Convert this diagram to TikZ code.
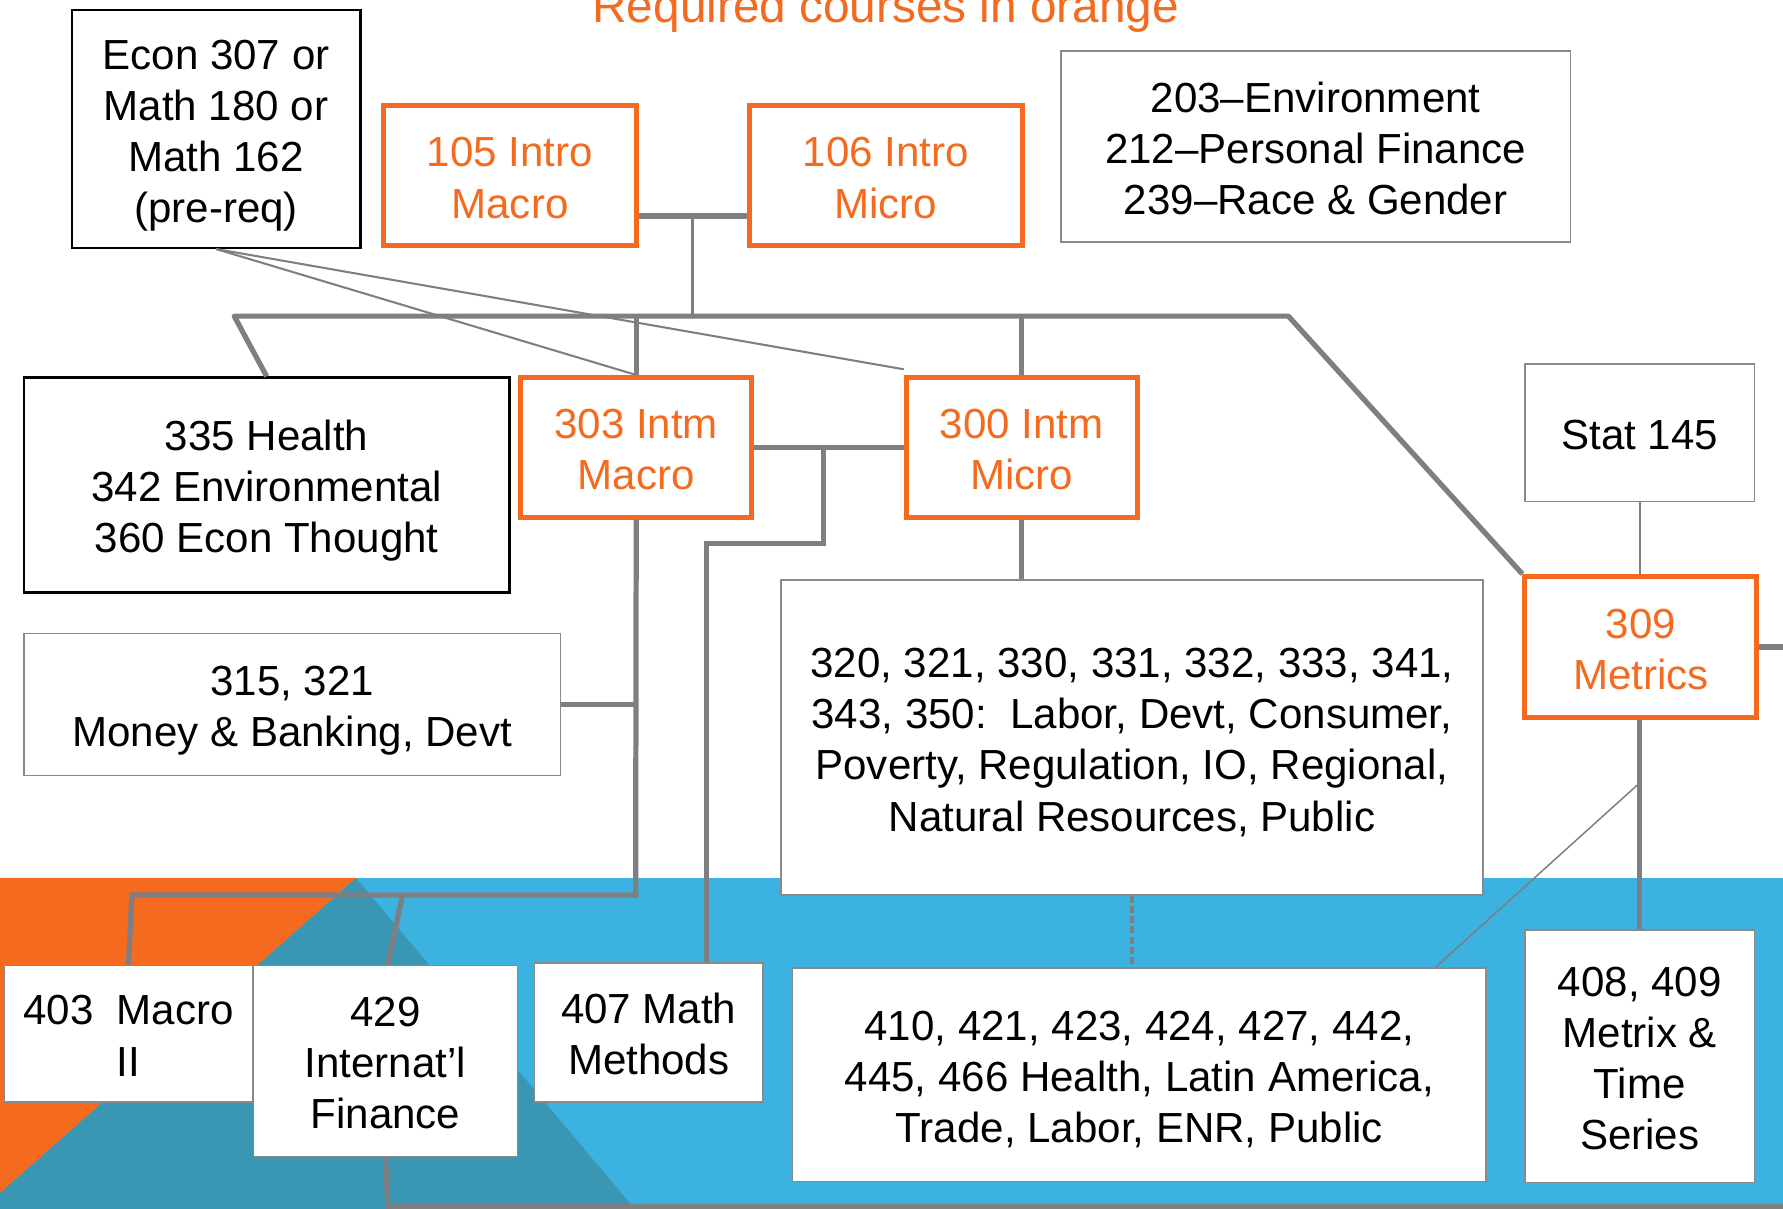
\documentclass[tikz,border=0pt]{standalone}
\usepackage{fontspec}
\setmainfont{Liberation Sans}
\usetikzlibrary{calc}
\definecolor{orng}{HTML}{F46B1F}
\definecolor{skyb}{HTML}{3BB2DF}
\definecolor{tealb}{HTML}{3A97B3}
\definecolor{lgray}{HTML}{7E7F83}
\definecolor{bgray}{HTML}{8A8A8A}
\newcommand{\topstrut}{\rule{0pt}{38pt}}
\newcommand{\botstrut}{\rule[-8.4pt]{0pt}{8.4pt}}
\tikzset{
 course/.style={draw=bgray, line width=1.5pt, fill=white, align=center, inner sep=0pt,
   font=\fontsize{37}{45}\selectfont},
 blackbox/.style={course, draw=black, line width=2pt},
 reqbox/.style={course, draw=orng, line width=4.5pt, text=orng},
 conn/.style={draw=lgray, line width=4.6pt},
 thinconn/.style={draw=lgray, line width=1.8pt},
}
\begin{document}
\begin{tikzpicture}[x=1pt,y=-1pt]
\useasboundingbox (0,0) rectangle (1568,1063);
\clip (0,0) rectangle (1568,1063);
% background band
\fill[white] (0,0) rectangle (1568,1063);
\fill[skyb] (0,772) rectangle (1568,1063);
\fill[tealb] (313,772) -- (558,1063) -- (0,1063) -- (0,1049) -- cycle;
\fill[orng] (0,772) -- (313,772) -- (0,1049) -- cycle;
% title
\node[font=\fontsize{42}{50}\selectfont, text=orng, anchor=base, inner sep=0pt] (title) at (779,20) {Required courses in orange};
% nodes
\node[blackbox, minimum width=254pt, minimum height=209pt] (econ) at (190,113.5) {\topstrut Econ 307 or\\Math 180 or\\Math 162\\(pre-req)\botstrut};
\node[reqbox, minimum width=223pt, minimum height=123pt] (m105) at (448.5,154.5) {\topstrut 105 Intro\\Macro\botstrut};
\node[reqbox, minimum width=240pt, minimum height=123pt] (m106) at (779,154.5) {\topstrut 106 Intro\\Micro\botstrut};
\node[course, minimum width=448pt, minimum height=168pt] (env) at (1157,129) {\topstrut 203–Environment\\212–Personal Finance\\239–Race \& Gender\botstrut};
\node[blackbox, minimum width=427pt, minimum height=189pt] (h335) at (234.5,426.5) {\topstrut 335 Health\\342 Environmental\\360 Econ Thought\botstrut};
\node[reqbox, minimum width=203pt, minimum height=123pt] (m303) at (559.5,393.5) {\topstrut 303 Intm\\Macro\botstrut};
\node[reqbox, minimum width=203pt, minimum height=123pt] (m300) at (898.5,393.5) {\topstrut 300 Intm\\Micro\botstrut};
\node[course, minimum width=202pt, minimum height=121pt] (stat) at (1442,380.5) {\topstrut Stat 145\botstrut};
\node[course, minimum width=472pt, minimum height=125pt] (mb315) at (257,619.5) {\topstrut 315, 321\\Money \& Banking, Devt\botstrut};
\node[course, minimum width=617pt, minimum height=277pt] (f320) at (995.5,648.5) {\topstrut 320, 321, 330, 331, 332, 333, 341,\\343, 350:\ \ Labor, Devt, Consumer,\\Poverty, Regulation, IO, Regional,\\Natural Resources, Public\botstrut};
\node[reqbox, minimum width=204pt, minimum height=124pt] (m309) at (1443,569) {\topstrut 309\\Metrics\botstrut};
\node[course, minimum width=218pt, minimum height=120pt] (n403) at (113,909) {\topstrut 403\ \ Macro\\II\botstrut};
\node[course, minimum width=232pt, minimum height=168pt] (n429) at (339,933) {\topstrut 429\\Internat’l\\Finance\botstrut};
\node[course, minimum width=201pt, minimum height=122pt] (n407) at (570.5,908) {\topstrut 407 Math\\Methods\botstrut};
\node[course, minimum width=610pt, minimum height=188pt] (n410) at (1002,945) {\topstrut 410, 421, 423, 424, 427, 442,\\445, 466 Health, Latin America,\\Trade, Labor, ENR, Public\botstrut};
\node[course, minimum width=202pt, minimum height=222pt] (n408) at (1442,929) {\topstrut 408, 409\\Metrix \&\\Time\\Series\botstrut};
% named coordinates
\coordinate (j1) at (609,190);
\coordinate (b1) at (609,278);
\coordinate (busL) at (206,278);
\coordinate (busR) at (1133,278);
\coordinate (j2) at (724,393.5);
\coordinate (k2) at (724,478);
\coordinate (k3) at (621,478);
\coordinate (r1) at (559,787);
\coordinate (r2) at (116,787);
\coordinate (r3) at (354,787);
\coordinate (e309) at (1568,569);
\coordinate (bot1) at (341,1061);
\coordinate (bot2) at (1568,1061);
% connectors
\draw[conn] (m105.east |- j1) -- (m106.west |- j1);
\draw[thinconn] (j1) -- (b1);
\draw[conn, line join=round] (h335.north) -- (busL) -- (busR) -- (m309.north west);
\draw[conn] (m303.north) -- (m303.north |- busL);
\draw[conn] (m300.north) -- (m300.north |- busL);
\draw[thinconn] (econ.south) -- (m303.north);
\draw[thinconn] (econ.south) -- ($(m300.north west)+(0,-5)$);
\draw[conn] (m303.east) -- (m300.west);
\draw[conn] (j2) -- (k2) -- (k3) -- ($(n407.north)+(50.5,0)$);
\draw[conn] (m303.south) -- (r1) -- (r2) -- (n403.north);
\draw[conn] (r3) -- ($(n429.north)+(2,0)$);
\draw[conn] (mb315.east) -- (mb315.east -| m303.south);
\draw[conn] (m300.south) -- (m300.south |- f320.north);
\draw[draw=lgray, line width=3pt, dash pattern=on 6pt off 3pt] (f320.south) -- (f320.south |- n410.north);
\draw[thinconn] (stat.south) -- (stat.south |- m309.north);
\draw[conn] (m309.south -| stat.south) -- (n408.north);
\draw[thinconn, line width=1.3pt] ($(m309.south -| stat.south)!0.3!(n408.north)$) -- ($(n410.north east)+(-45,0)$);
\draw[conn] (m309.east) -- (e309);
\draw[conn] (n429.south) -- (bot1) -- (bot2);
\end{tikzpicture}
\end{document}
